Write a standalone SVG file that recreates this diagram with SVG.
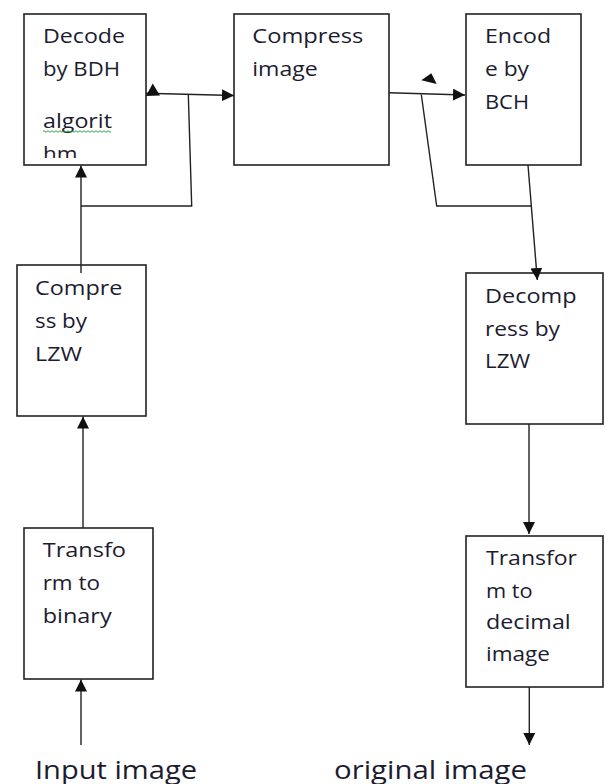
<svg xmlns="http://www.w3.org/2000/svg" width="608" height="784" viewBox="0 0 608 784">
<style>
.box{fill:#fff;stroke:#222;stroke-width:1.6}
.t{font-family:"Open Sans","Liberation Sans",sans-serif;font-size:20px;fill:#1c1c30}
.big{font-family:"Open Sans","Liberation Sans",sans-serif;font-size:25.5px;fill:#1c1c30}
.ln{fill:none;stroke:#222;stroke-width:1.4}
.ar{marker-end:url(#ah)}
.hd{fill:#111}
</style>
<defs>
<marker id="ah" viewBox="0 0 12 12" refX="12" refY="6" markerWidth="12" markerHeight="12" orient="auto" markerUnits="userSpaceOnUse">
<path d="M0,0 L12,6 L0,12 z" fill="#111"/>
</marker>
<clipPath id="clipDecode"><rect x="24" y="14" width="122" height="144"/></clipPath>
</defs>
<rect width="608" height="784" fill="#fff"/>

<g id="decode">
<rect class="box" x="24" y="14" width="122" height="151"/>
<g clip-path="url(#clipDecode)">
<text class="t" x="43" y="43.3" textLength="82" lengthAdjust="spacingAndGlyphs">Decode</text>
<text class="t" x="43" y="76" textLength="77" lengthAdjust="spacingAndGlyphs">by BDH</text>
<text class="t" x="43" y="128.3" textLength="69" lengthAdjust="spacingAndGlyphs">algorit</text>
<text class="t" x="43" y="160.5" textLength="34.5" lengthAdjust="spacingAndGlyphs">hm</text>
</g>
<path d="M43,131.5 q1,-1.6 2,0 t2,0 t2,0 t2,0 t2,0 t2,0 t2,0 t2,0 t2,0 t2,0 t2,0 t2,0 t2,0 t2,0 t2,0 t2,0 t2,0 t2,0 t2,0 t2,0 t2,0 t2,0 t2,0 t2,0 t2,0 t2,0 t2,0 t2,0 t2,0 t2,0 t2,0 t2,0 t2,0 t2,0" fill="none" stroke="#3c9c3c" stroke-width="1"/>
</g>

<g id="compress-image">
<rect class="box" x="234" y="14" width="155" height="151"/>
<text class="t" x="252.3" y="43.3" textLength="111" lengthAdjust="spacingAndGlyphs">Compress</text>
<text class="t" x="252.3" y="76" textLength="65.5" lengthAdjust="spacingAndGlyphs">image</text>
</g>

<g id="encode">
<rect class="box" x="466" y="14" width="115" height="151"/>
<text class="t" x="485" y="43.3" textLength="66" lengthAdjust="spacingAndGlyphs">Encod</text>
<text class="t" x="485" y="76" textLength="44" lengthAdjust="spacingAndGlyphs">e by</text>
<text class="t" x="485" y="109" textLength="44" lengthAdjust="spacingAndGlyphs">BCH</text>
</g>

<g id="compress-lzw">
<rect class="box" x="17" y="265" width="129" height="151"/>
<text class="t" x="35" y="295" textLength="87.5" lengthAdjust="spacingAndGlyphs">Compre</text>
<text class="t" x="35" y="327.7" textLength="52" lengthAdjust="spacingAndGlyphs">ss by</text>
<text class="t" x="35" y="360.7" textLength="47" lengthAdjust="spacingAndGlyphs">LZW</text>
</g>

<g id="decompress">
<rect class="box" x="466" y="273" width="137" height="151"/>
<text class="t" x="485" y="302.7" textLength="91.5" lengthAdjust="spacingAndGlyphs">Decomp</text>
<text class="t" x="485" y="336" textLength="75" lengthAdjust="spacingAndGlyphs">ress by</text>
<text class="t" x="485" y="368" textLength="45" lengthAdjust="spacingAndGlyphs">LZW</text>
</g>

<g id="transform-binary">
<rect class="box" x="24" y="528" width="129" height="151"/>
<text class="t" x="42.7" y="557" textLength="83.3" lengthAdjust="spacingAndGlyphs">Transfo</text>
<text class="t" x="42.7" y="590" textLength="57.3" lengthAdjust="spacingAndGlyphs">rm to</text>
<text class="t" x="42.7" y="623" textLength="69" lengthAdjust="spacingAndGlyphs">binary</text>
</g>

<g id="transform-decimal">
<rect class="box" x="466" y="536" width="137" height="151"/>
<text class="t" x="486" y="565" textLength="91" lengthAdjust="spacingAndGlyphs">Transfor</text>
<text class="t" x="486" y="597.7" textLength="46.7" lengthAdjust="spacingAndGlyphs">m to</text>
<text class="t" x="486" y="629.3" textLength="84.7" lengthAdjust="spacingAndGlyphs">decimal</text>
<text class="t" x="486" y="661" textLength="64" lengthAdjust="spacingAndGlyphs">image</text>
</g>

<g id="label-input">
<text class="big" x="35" y="778.5" textLength="162" lengthAdjust="spacingAndGlyphs">Input image</text>
</g>
<g id="label-original">
<text class="big" x="334" y="778.5" textLength="193" lengthAdjust="spacingAndGlyphs">original image</text>
</g>

<g id="connectors">
<line class="ln ar" x1="81" y1="745" x2="81" y2="679.5"/>
<line class="ln ar" x1="83" y1="528" x2="83" y2="416.5"/>
<line class="ln ar" x1="81" y1="273" x2="81" y2="165.5"/>
<polyline class="ln" points="81,206 191.7,206 188.3,94.2"/>
<line class="ln ar" x1="146" y1="93.3" x2="234" y2="95.5"/>
<polygon class="hd" points="146,96 152.7,83.5 160,95.5"/>
<line class="ln ar" x1="389" y1="92.7" x2="465" y2="95"/>
<polygon class="hd" points="431.3,73.3 421.3,80.3 436.7,84"/>
<polyline class="ln" points="421.3,94.5 436.7,206 531,206"/>
<line class="ln ar" x1="528" y1="165" x2="537.3" y2="280"/>
<line class="ln ar" x1="529" y1="424" x2="529" y2="534"/>
<line class="ln ar" x1="529.3" y1="687" x2="529.3" y2="745"/>
</g>
</svg>
